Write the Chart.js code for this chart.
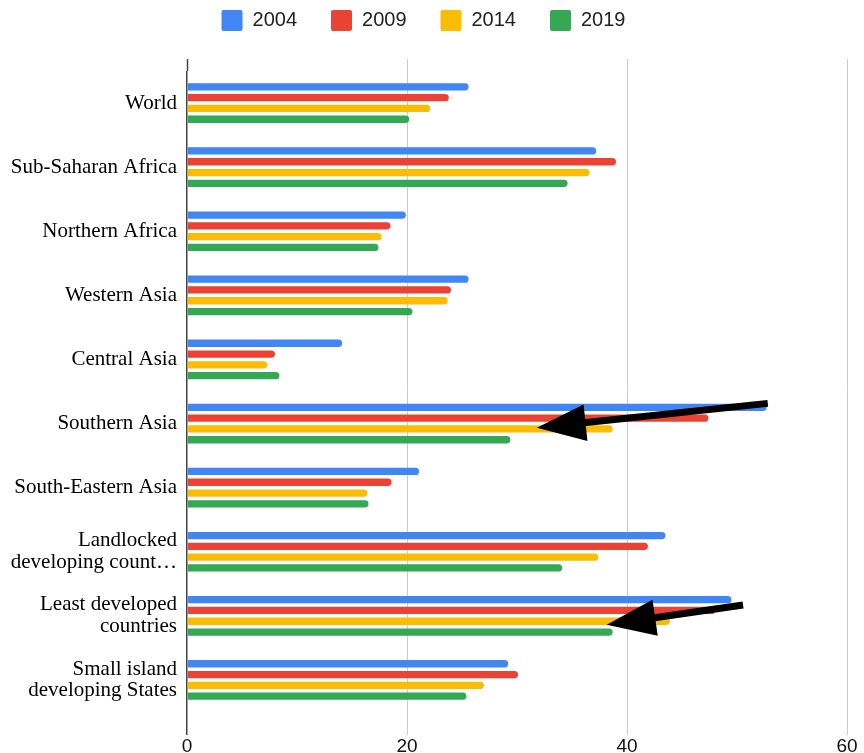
<!DOCTYPE html>
<html>
<head>
<meta charset="utf-8">
<script src="https://cdn.jsdelivr.net/npm/chart.js@4.4.1/dist/chart.umd.min.js"></script>
<style>
  html, body { margin: 0; padding: 0; background: #ffffff; }
  #c { display: block; }
</style>
</head>
<body>
<canvas id="c" width="864" height="753"></canvas>
<script>
// Regions (category axis)
const regions = [
  'World',
  'Sub-Saharan Africa',
  'Northern Africa',
  'Western Asia',
  'Central Asia',
  'Southern Asia',
  'South-Eastern Asia',
  ['Landlocked', 'developing count\u2026'],
  ['Least developed', 'countries'],
  ['Small island', 'developing States']
];

// Survey years (series)
const years = ['2004', '2009', '2014', '2019'];

// Values per year, one entry per region
const values2004 = [25.6, 37.2, 19.9, 25.6, 14.1, 52.7, 21.1, 43.5, 49.5, 29.2];
const values2009 = [23.8, 39.0, 18.5, 24.0, 8.0, 47.4, 18.6, 41.9, 48.0, 30.1];
const values2014 = [22.1, 36.6, 17.7, 23.7, 7.3, 38.7, 16.4, 37.4, 43.9, 27.0];
const values2019 = [20.2, 34.6, 17.4, 20.5, 8.4, 29.4, 16.5, 34.1, 38.7, 25.4];

// Value axis tick labels
const xTicks = [0, 20, 40, 60];

const seriesValues = [values2004, values2009, values2014, values2019];
const seriesColors = ['#4285F4', '#EA4335', '#FBBC04', '#34A853'];

// Callout arrows: tail and tip given as (value, offset within the region's band)
const callouts = [
  { region: 5, tail: [52.8, -0.315], tip: [31.8, 0.067] },
  { region: 8, tail: [50.55, -0.17], tip: [38.15, 0.14] }
];

const gridColor = (v) => (v === 0 ? '#444444' : '#cccccc');
const gridWidth = (v) => (v === 0 ? 1.5 : 1);

// Gridlines reach a little above the plotting area
const gridOverhang = {
  id: 'gridOverhang',
  beforeDatasetsDraw(chart) {
    const { ctx, chartArea } = chart;
    const xs = chart.scales.x;
    ctx.save();
    xs.ticks.forEach((t) => {
      const px = Math.round(xs.getPixelForValue(t.value)) + 0.5;
      ctx.beginPath();
      ctx.strokeStyle = gridColor(t.value);
      ctx.lineWidth = gridWidth(t.value);
      ctx.moveTo(px, chartArea.top - 12);
      ctx.lineTo(px, chartArea.top);
      ctx.stroke();
    });
    ctx.restore();
  }
};

// Black callout arrows
const calloutArrows = {
  id: 'calloutArrows',
  afterDatasetsDraw(chart) {
    const { ctx } = chart;
    const xs = chart.scales.x;
    const ys = chart.scales.y;
    const band = ys.height / regions.length;
    const pt = (idx, p) => [xs.getPixelForValue(p[0]), ys.getPixelForValue(idx) + p[1] * band];
    ctx.save();
    ctx.fillStyle = '#000000';
    ctx.strokeStyle = '#000000';
    callouts.forEach((a) => {
      const [tx, ty] = pt(a.region, a.tail);
      const [hx, hy] = pt(a.region, a.tip);
      const dx = tx - hx, dy = ty - hy;
      const len = Math.hypot(dx, dy);
      const ux = dx / len, uy = dy / len;
      const nx = -uy, ny = ux;
      const headLen = 49, headHalf = 18.3;
      const bx = hx + ux * headLen, by = hy + uy * headLen;
      ctx.beginPath();
      ctx.lineWidth = 7;
      ctx.lineCap = 'butt';
      ctx.moveTo(tx, ty);
      ctx.lineTo(bx - ux * 4, by - uy * 4);
      ctx.stroke();
      ctx.beginPath();
      ctx.moveTo(hx, hy);
      ctx.lineTo(bx + nx * headHalf, by + ny * headHalf);
      ctx.lineTo(bx - nx * headHalf, by - ny * headHalf);
      ctx.closePath();
      ctx.fill();
    });
    ctx.restore();
  }
};

// Extra room between legend and plot
const legendSpacer = {
  id: 'legendSpacer',
  beforeInit(chart) {
    const fit = chart.legend.fit;
    chart.legend.fit = function () {
      fit.call(this);
      this.height += 30;
    };
  }
};

new Chart(document.getElementById('c'), {
  type: 'bar',
  data: {
    labels: regions,
    datasets: years.map((y, i) => ({
      label: y,
      data: seriesValues[i],
      backgroundColor: seriesColors[i],
      borderWidth: 0,
      borderRadius: 4,
      borderSkipped: 'start',
      categoryPercentage: 0.674,
      barPercentage: 0.676
    }))
  },
  options: {
    indexAxis: 'y',
    responsive: false,
    animation: false,
    layout: { padding: { top: -24, right: 17, left: 0, bottom: 0 } },
    plugins: {
      tooltip: { enabled: false },
      legend: {
        position: 'top',
        labels: {
          boxWidth: 21,
          boxHeight: 21,
          padding: 34,
          useBorderRadius: true,
          borderRadius: 2,
          color: '#222222',
          font: { family: '"Liberation Sans", Arial, sans-serif', size: 20 }
        }
      }
    },
    scales: {
      x: {
        type: 'linear',
        min: 0,
        max: 60,
        afterBuildTicks: (s) => { s.ticks = xTicks.map((v) => ({ value: v })); },
        afterFit: (s) => { s.height = 41; },
        border: { display: false },
        grid: {
          color: (c) => gridColor(c.tick.value),
          lineWidth: (c) => gridWidth(c.tick.value),
          tickLength: 23,
          drawTicks: true
        },
        ticks: {
          padding: 0,
          color: '#111111',
          font: { family: '"Liberation Sans", Arial, sans-serif', size: 19 }
        }
      },
      y: {
        type: 'category',
        afterFit: (s) => { s.width = 187; },
        border: { display: false },
        grid: { display: false, drawTicks: false },
        ticks: {
          padding: 10,
          color: '#000000',
          font: { family: '"Liberation Serif", "Times New Roman", serif', size: 21, lineHeight: 1.04 }
        }
      }
    }
  },
  plugins: [legendSpacer, gridOverhang, calloutArrows]
});
</script>
</body>
</html>
